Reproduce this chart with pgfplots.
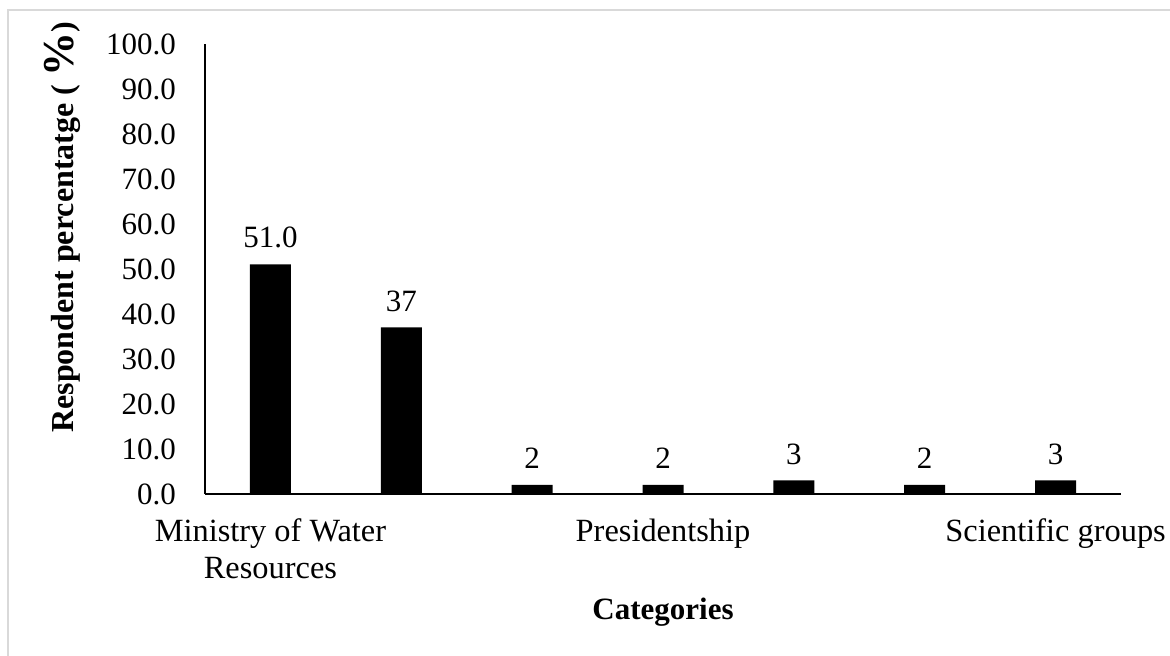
\documentclass[border=0pt]{standalone}
\usepackage{fontspec}
\setmainfont{Liberation Serif}
\usepackage{pgfplots}
\pgfplotsset{compat=1.18}
\definecolor{framegray}{RGB}{217,217,217}
\begin{document}
\begin{tikzpicture}[x=1pt,y=1pt,font=\fontsize{15.5}{18}\selectfont]
\useasboundingbox (0,0) rectangle (585,328);
\draw[color=framegray, line width=0.75pt] (4,0) -- (4,323) -- (585,323);
\begin{axis}[
  at={(102.5pt,81pt)}, anchor=south west,
  scale only axis, width=458pt, height=225pt,
  xmin=-0.5, xmax=6.5, ymin=0, ymax=100,
  axis x line*=bottom, axis y line*=left,
  axis line style={line width=0.6pt, black},
  ytick={0,10,...,100},
  xtick={0,3,6},
  xticklabels={{Ministry of Water\\Resources},{Presidentship},{Scientific groups}},
  major tick length=0pt,
  /pgf/number format/.cd, fixed, fixed zerofill, precision=1, assume math mode=true,
  /pgfplots/.cd,
  xticklabel style={align=center, yshift=-9pt, font=\fontsize{16.2}{18.5}\selectfont},
  yticklabel style={xshift=-11pt},
  ybar, bar width=20.5pt,
  clip=false,
]
\addplot[fill=black, draw=none, nodes near coords, point meta=explicit symbolic,
  nodes near coords style={yshift=4.5pt, font=\fontsize{15.5}{18}\selectfont}]
  coordinates {(0,51)[51.0] (1,37)[37] (2,2)[2] (3,2)[2] (4,3)[3] (5,2)[2] (6,3)[3]};
\end{axis}
\node[rotate=90, font=\bfseries\fontsize{16}{18}\selectfont] at (31,111.5) [anchor=west, inner sep=0pt] {Respondent percentatge ( {\fontsize{22}{22}\selectfont\%})};
\node[font=\bfseries\fontsize{15.5}{18}\selectfont] at (331.5,22) {Categories};
\end{tikzpicture}
\end{document}
